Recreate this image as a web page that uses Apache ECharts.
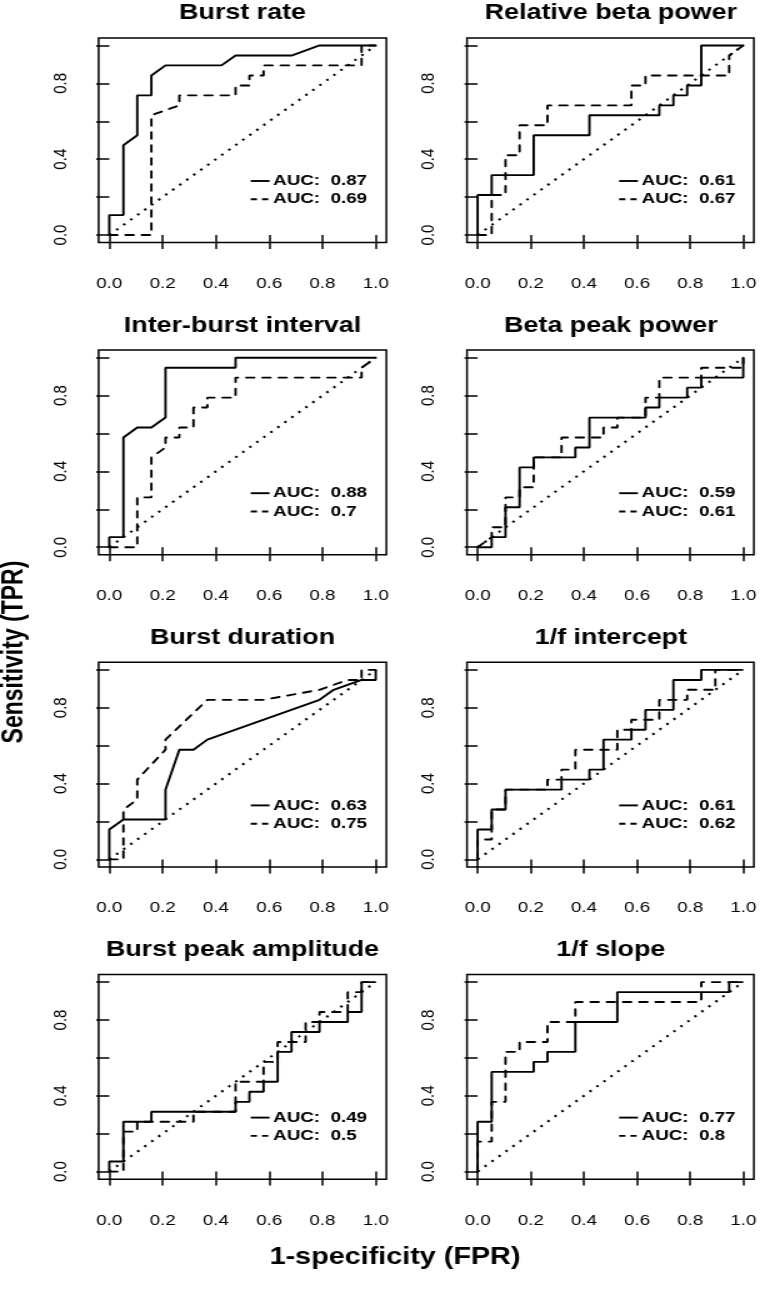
<!DOCTYPE html>
<html><head><meta charset="utf-8">
<script src="https://cdn.jsdelivr.net/npm/echarts@6/dist/echarts.min.js"></script>
<style>
html,body{margin:0;padding:0;background:#fff;overflow:hidden}
#wrap{width:760px;height:1300px;overflow:hidden;position:relative}
#chart{width:608px;height:1300px;transform:scaleX(1.25);transform-origin:0 0}
</style></head><body><div id="wrap"><div id="chart"></div></div>
<script>
// ---------------- data ----------------
const panelTitles = ["Burst rate","Relative beta power","Inter-burst interval","Beta peak power",
                     "Burst duration","1/f intercept","Burst peak amplitude","1/f slope"];
const aucSolid  = [0.87, 0.61, 0.88, 0.59, 0.63, 0.61, 0.49, 0.77];
const aucDashed = [0.69, 0.67, 0.7, 0.61, 0.75, 0.62, 0.5, 0.8];
const xTickValues = [0, 0.2, 0.4, 0.6, 0.8, 1.0];
const yTickValues = [0, 0.2, 0.4, 0.6, 0.8, 1.0];
const yLabelValues = [0, 0.4, 0.8];
const chanceLine = [[0,0],[1,1]];
const xAxisTitle = "1-specificity (FPR)";
const yAxisTitle = "Sensitivity (TPR)";

const burstRateSolid = [[0,0],[0,0.105],[0.053,0.105],[0.053,0.474],[0.105,0.526],[0.105,0.737],[0.158,0.737],[0.158,0.842],[0.211,0.895],[0.421,0.895],[0.474,0.947],[0.684,0.947],[0.789,1],[1,1]];
const burstRateDashed = [[0,0],[0.158,0],[0.158,0.632],[0.263,0.684],[0.263,0.737],[0.474,0.737],[0.474,0.789],[0.526,0.789],[0.526,0.842],[0.579,0.842],[0.579,0.895],[0.947,0.895],[0.947,1],[1,1]];

const relBetaSolid = [[0,0],[0,0.211],[0.053,0.211],[0.053,0.316],[0.211,0.316],[0.211,0.526],[0.421,0.526],[0.421,0.632],[0.684,0.632],[0.684,0.684],[0.737,0.684],[0.737,0.737],[0.789,0.737],[0.789,0.789],[0.842,0.789],[0.842,1],[1,1]];
const relBetaDashed = [[0,0],[0.053,0],[0.053,0.211],[0.105,0.211],[0.105,0.421],[0.158,0.421],[0.158,0.579],[0.263,0.579],[0.263,0.684],[0.579,0.684],[0.579,0.789],[0.632,0.789],[0.632,0.842],[0.947,0.842],[0.947,0.947],[1,1]];

const interBurstSolid = [[0,0],[0,0.053],[0.053,0.053],[0.053,0.579],[0.105,0.632],[0.158,0.632],[0.211,0.684],[0.211,0.947],[0.474,0.947],[0.474,1],[1,1]];
const interBurstDashed = [[0,0],[0.105,0],[0.105,0.263],[0.158,0.263],[0.158,0.474],[0.211,0.526],[0.211,0.579],[0.263,0.579],[0.263,0.632],[0.316,0.632],[0.316,0.737],[0.368,0.737],[0.368,0.789],[0.474,0.789],[0.474,0.895],[0.947,0.895],[0.947,0.947],[1,1]];

const betaPeakSolid = [[0,0],[0.053,0],[0.053,0.053],[0.105,0.053],[0.105,0.211],[0.158,0.211],[0.158,0.421],[0.211,0.421],[0.211,0.474],[0.368,0.474],[0.368,0.526],[0.421,0.526],[0.421,0.684],[0.632,0.684],[0.632,0.737],[0.684,0.737],[0.684,0.789],[0.789,0.789],[0.789,0.842],[0.842,0.842],[0.842,0.895],[1,0.895],[1,1]];
const betaPeakDashed = [[0,0],[0.053,0.053],[0.053,0.105],[0.105,0.105],[0.105,0.263],[0.158,0.263],[0.158,0.316],[0.211,0.316],[0.211,0.474],[0.316,0.474],[0.316,0.579],[0.474,0.579],[0.474,0.632],[0.526,0.632],[0.526,0.684],[0.632,0.684],[0.632,0.789],[0.684,0.789],[0.684,0.895],[0.842,0.895],[0.842,0.947],[1,0.947],[1,1]];

const burstDurSolid = [[0,0],[0,0.158],[0.053,0.211],[0.211,0.211],[0.211,0.368],[0.263,0.579],[0.316,0.579],[0.368,0.632],[0.789,0.842],[0.842,0.895],[0.947,0.947],[1,0.947],[1,1]];
const burstDurDashed = [[0,0],[0.053,0],[0.053,0.263],[0.105,0.316],[0.105,0.421],[0.211,0.579],[0.211,0.632],[0.368,0.842],[0.579,0.842],[0.789,0.895],[0.895,0.947],[0.947,0.947],[0.947,1],[1,1]];

const oneFIntSolid = [[0,0],[0,0.158],[0.053,0.158],[0.053,0.263],[0.105,0.263],[0.105,0.368],[0.316,0.368],[0.316,0.421],[0.421,0.421],[0.421,0.474],[0.474,0.474],[0.474,0.632],[0.579,0.632],[0.579,0.684],[0.632,0.684],[0.632,0.789],[0.737,0.789],[0.737,0.947],[0.842,0.947],[0.842,1],[1,1]];
const oneFIntDashed = [[0,0],[0,0.105],[0.053,0.105],[0.053,0.263],[0.105,0.263],[0.105,0.368],[0.263,0.368],[0.263,0.421],[0.316,0.421],[0.316,0.474],[0.368,0.474],[0.368,0.579],[0.526,0.579],[0.526,0.684],[0.579,0.684],[0.579,0.737],[0.684,0.737],[0.684,0.842],[0.789,0.842],[0.789,0.895],[0.895,0.895],[0.895,1],[1,1]];

const burstPeakSolid = [[0,0],[0,0.053],[0.053,0.053],[0.053,0.263],[0.158,0.263],[0.158,0.316],[0.474,0.316],[0.474,0.368],[0.526,0.368],[0.526,0.421],[0.579,0.421],[0.579,0.474],[0.632,0.474],[0.632,0.632],[0.684,0.632],[0.684,0.737],[0.789,0.737],[0.789,0.789],[0.895,0.789],[0.895,0.842],[0.947,0.842],[0.947,1],[1,1]];
const burstPeakDashed = [[0,0],[0.053,0],[0.053,0.211],[0.105,0.211],[0.105,0.263],[0.316,0.263],[0.316,0.316],[0.474,0.316],[0.474,0.474],[0.579,0.474],[0.579,0.579],[0.632,0.579],[0.632,0.684],[0.737,0.684],[0.737,0.789],[0.789,0.789],[0.789,0.842],[0.895,0.842],[0.895,0.947],[0.947,0.947],[0.947,1],[1,1]];

const oneFSlopeSolid = [[0,0],[0,0.263],[0.053,0.263],[0.053,0.526],[0.211,0.526],[0.211,0.579],[0.263,0.579],[0.263,0.632],[0.368,0.632],[0.368,0.789],[0.526,0.789],[0.526,0.947],[0.947,0.947],[0.947,1],[1,1]];
const oneFSlopeDashed = [[0,0],[0,0.158],[0.053,0.158],[0.053,0.368],[0.105,0.368],[0.105,0.632],[0.158,0.632],[0.158,0.684],[0.263,0.684],[0.263,0.789],[0.368,0.789],[0.368,0.895],[0.842,0.895],[0.842,1],[1,1]];

const solidCurves  = [burstRateSolid, relBetaSolid, interBurstSolid, betaPeakSolid, burstDurSolid, oneFIntSolid, burstPeakSolid, oneFSlopeSolid];
const dashedCurves = [burstRateDashed, relBetaDashed, interBurstDashed, betaPeakDashed, burstDurDashed, oneFIntDashed, burstPeakDashed, oneFSlopeDashed];

// ---------------- layout (unstretched px; page is stretched 1.25x horizontally) ----------------
const FONT = "'Liberation Sans', Arial, Helvetica, sans-serif";
const colLeft = [78.9, 373.6];
const rowTop = [37.9, 350.1, 662.3, 974.5];
const gridW = 230.2, gridH = 204.7;
const LW = 1.9;
const DASH = [6.5, 6.5];
const DOT = [2, 5.5];

const grids = [], xAxes = [], yAxes = [], series = [], graphics = [];

panelTitles.forEach((title, i) => {
  const col = i % 2, row = Math.floor(i / 2);
  const L = colLeft[col], T = rowTop[row];
  grids.push({left: L, top: T, width: gridW, height: gridH, show: true,
              borderColor: '#000', borderWidth: 1.5, backgroundColor: 'transparent'});
  xAxes.push({type: 'value', gridIndex: i, min: -0.04, max: 1.04,
    axisLine: {show: false}, splitLine: {show: false},
    axisTick: {show: true, length: 14, lineStyle: {color: '#000', width: 1.5}, customValues: xTickValues},
    axisLabel: {customValues: xTickValues, formatter: v => v.toFixed(1), margin: 33.8,
                fontSize: 15, color: '#000', fontFamily: FONT}});
  yAxes.push({type: 'value', gridIndex: i, min: -0.04, max: 1.04,
    axisLine: {show: false}, splitLine: {show: false},
    axisTick: {show: true, length: 10.5, lineStyle: {color: '#000', width: 1.5}, customValues: yTickValues},
    axisLabel: {customValues: yLabelValues, formatter: v => v.toFixed(1), margin: 22.8, rotate: 90,
                fontSize: 15, color: '#000', fontFamily: FONT}});
  series.push({type: 'line', name: 'chance' + i, xAxisIndex: i, yAxisIndex: i, data: chanceLine,
    symbol: 'none', silent: true, lineStyle: {color: '#000', width: 2.1, type: DOT, cap: 'butt'}});
  series.push({type: 'line', name: 'dashed' + i, xAxisIndex: i, yAxisIndex: i, data: dashedCurves[i],
    symbol: 'none', silent: true, lineStyle: {color: '#000', width: LW, type: DASH, cap: 'round'}});
  series.push({type: 'line', name: 'solid' + i, xAxisIndex: i, yAxisIndex: i, data: solidCurves[i],
    symbol: 'none', silent: true, lineStyle: {color: '#000', width: LW, type: 'solid'}});

  // legend (bottom-right inside the panel)
  const lx = L + 121.7, ly1 = T + 143.1, ly2 = T + 161.4;
  graphics.push({type: 'line', shape: {x1: lx, y1: ly1, x2: lx + 15, y2: ly1},
    style: {stroke: '#000', lineWidth: LW}});
  graphics.push({type: 'line', shape: {x1: lx, y1: ly2, x2: lx + 15, y2: ly2},
    style: {stroke: '#000', lineWidth: LW, lineDash: [5, 4]}});
  graphics.push({type: 'text', x: lx + 18, y: ly1,
    style: {text: 'AUC:  ' + String(aucSolid[i]), fill: '#000', font: 'bold 15px ' + FONT,
            textAlign: 'left', textVerticalAlign: 'middle', align: 'left', verticalAlign: 'middle'}});
  graphics.push({type: 'text', x: lx + 18, y: ly2,
    style: {text: 'AUC:  ' + String(aucDashed[i]), fill: '#000', font: 'bold 15px ' + FONT,
            textAlign: 'left', textVerticalAlign: 'middle', align: 'left', verticalAlign: 'middle'}});

  graphics.push({type: 'text', x: L + gridW / 2, y: T - 24.5,
    style: {text: title, fill: '#000', font: 'bold 21.5px ' + FONT,
            textAlign: 'center', textVerticalAlign: 'middle', align: 'center', verticalAlign: 'middle'}});
});

graphics.push({type: 'text', x: 12, y: 652, rotation: Math.PI / 2,
  style: {text: yAxisTitle, fill: '#000', font: 'bold 23px ' + FONT,
          textAlign: 'center', textVerticalAlign: 'middle', align: 'center', verticalAlign: 'middle'}});
graphics.push({type: 'text', x: 316, y: 1258,
  style: {text: xAxisTitle, fill: '#000', font: 'bold 23px ' + FONT,
          textAlign: 'center', textVerticalAlign: 'middle', align: 'center', verticalAlign: 'middle'}});

const chart = echarts.init(document.getElementById('chart'));
chart.setOption({
  animation: false,
  backgroundColor: '#fff',
  grid: grids, xAxis: xAxes, yAxis: yAxes, series: series,
  graphic: {elements: graphics}
});
</script></body></html>
